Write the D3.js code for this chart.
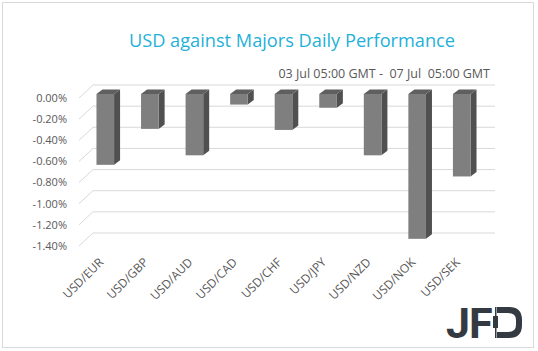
<!DOCTYPE html>
<html lang="en">
  <head>
    <meta charset="UTF-8" />
    <title>USD against Majors Daily Performance</title>
    <style>
      body {
        margin: 0;
        background: #fff;
      }
      svg {
        display: block;
        font-family: "Open Sans", sans-serif;
      }
      .tick-label {
        font-size: 11px;
        fill: #595959;
      }
      .cat-label {
        font-size: 12px;
        fill: #595959;
      }
      .grid {
        stroke: #d9d9d9;
        stroke-width: 1;
      }
    </style>
  </head>
  <body>
    <svg width="538" height="351"></svg>

    <script src="https://d3js.org/d3.v7.min.js"></script>
    <script>
      const categories = ["USD/EUR", "USD/GBP", "USD/AUD", "USD/CAD", "USD/CHF", "USD/JPY", "USD/NZD", "USD/NOK", "USD/SEK"];
      const values = [-0.67, -0.33, -0.58, -0.10, -0.34, -0.13, -0.58, -1.37, -0.78];
      const ticks = [0, -0.2, -0.4, -0.6, -0.8, -1.0, -1.2, -1.4];

      const svg = d3.select("svg");

      // depth of the 3d box (side wall) and of the bars
      const depth = { dx: 14, dy: -13 };
      const barDepth = { dx: 6, dy: -4.5 };

      const y = d3.scaleLinear().domain([-1.4, 0]).range([246, 98]);
      const x = d3
        .scaleBand()
        .domain(categories)
        .range([83, 484])
        .paddingInner(0.605)
        .paddingOuter(0.3025);

      // outer frame
      svg
        .append("rect")
        .attr("x", 2.5)
        .attr("y", 2.5)
        .attr("width", 531)
        .attr("height", 345)
        .attr("fill", "none")
        .attr("stroke", "#d9d9d9");

      // title
      svg
        .append("text")
        .attr("x", 292)
        .attr("y", 47)
        .attr("text-anchor", "middle")
        .attr("font-size", 18.2)
        .attr("fill", "#1fb1d8")
        .text("USD against Majors Daily Performance");

      svg
        .append("text")
        .attr("x", 490)
        .attr("y", 78)
        .attr("text-anchor", "end")
        .attr("font-size", 12.5)
        .attr("fill", "#595959")
        .style("white-space", "pre")
        .text("03 Jul 05:00 GMT -  07 Jul  05:00 GMT");

      // gridlines: side wall diagonal + back wall
      const x0 = 79;
      const grid = svg.append("g");
      ticks.forEach((t) => {
        grid
          .append("line")
          .attr("class", "grid")
          .attr("x1", x0)
          .attr("y1", y(t))
          .attr("x2", x0 + depth.dx)
          .attr("y2", y(t) + depth.dy);
        grid
          .append("line")
          .attr("class", "grid")
          .attr("x1", x0 + depth.dx)
          .attr("y1", y(t) + depth.dy)
          .attr("x2", 495)
          .attr("y2", y(t) + depth.dy);
      });

      // y tick labels
      svg
        .append("g")
        .selectAll("text")
        .data(ticks)
        .join("text")
        .attr("class", "tick-label")
        .attr("x", 67)
        .attr("y", (d) => y(d))
        .attr("dy", "0.35em")
        .attr("text-anchor", "end")
        .text((d) => (d === 0 ? "0.00%" : d3.format(".2f")(d) + "%").replace("−", "-"));

      // bars
      const bw = x.bandwidth();
      const bars = svg
        .append("g")
        .selectAll("g")
        .data(categories.map((c, i) => ({ c, v: values[i] })))
        .join("g");

      const top0 = y(0) - 4;
      const bot = (d) => y(d.v) - 4;

      // side face
      bars
        .append("path")
        .attr("fill", "#505050")
        .attr("d", (d) => {
          const xr = x(d.c) + bw;
          return `M${xr},${top0}L${xr + barDepth.dx},${top0 + barDepth.dy}L${xr + barDepth.dx},${bot(d) + barDepth.dy}L${xr},${bot(d)}Z`;
        });

      // top face
      bars
        .append("path")
        .attr("fill", "#5f5f5f")
        .attr("d", (d) => {
          const xl = x(d.c);
          return `M${xl},${top0}L${xl + barDepth.dx},${top0 + barDepth.dy}L${xl + bw + barDepth.dx},${top0 + barDepth.dy}L${xl + bw},${top0}Z`;
        });

      // front face
      bars
        .append("rect")
        .attr("fill", "#7f7f7f")
        .attr("x", (d) => x(d.c))
        .attr("y", top0)
        .attr("width", bw)
        .attr("height", (d) => bot(d) - top0);

      // category labels
      svg
        .append("g")
        .selectAll("text")
        .data(categories)
        .join("text")
        .attr("class", "cat-label")
        .attr("text-anchor", "end")
        .attr(
          "transform",
          (d) => `translate(${x(d) + bw / 2 - 1},${263}) rotate(-45)`
        )
        .text((d) => d);

      // JFD logo
      const logo = svg.append("g").attr("fill", "#343a42");
      logo
        .append("text")
        .attr("x", 446)
        .attr("y", 338)
        .attr("font-family", "Roboto, sans-serif")
        .attr("font-weight", 700)
        .attr("font-size", 43)
        .attr("letter-spacing", -1)
        .text("JF");
      logo
        .append("path")
        .attr(
          "d",
          "M497,307H509Q522,307 522,320V325Q522,338 509,338H497V332H508Q516,332 516,325V320Q516,313 508,313H497Z"
        );
      logo.append("rect").attr("x", 495).attr("y", 307).attr("width", 1.5).attr("height", 31);
      logo.append("rect").attr("x", 493).attr("y", 316).attr("width", 5).attr("height", 12);
    </script>
  </body>
</html>
